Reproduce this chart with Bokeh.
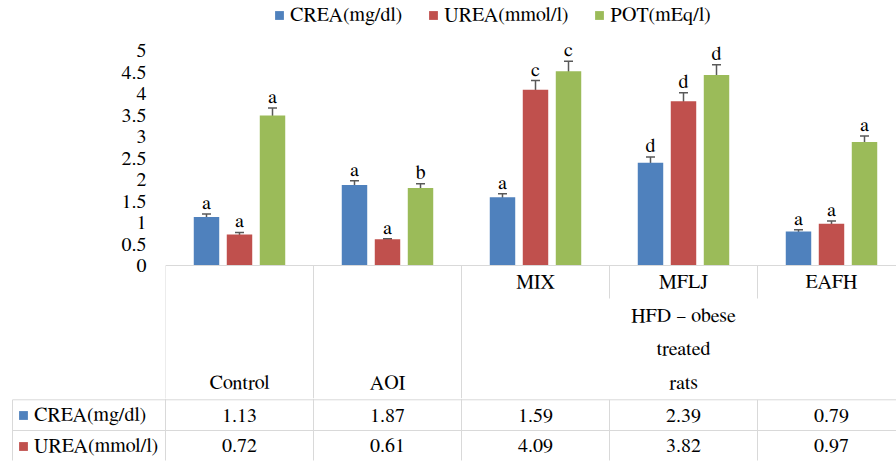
from bokeh.plotting import figure
from bokeh.models import (ColumnDataSource, Range1d, FixedTicker, Whisker, TeeHead,
                          Legend, LegendItem)
from bokeh.layouts import column
from bokeh.transform import dodge
from bokeh.core.properties import value
from bokeh.embed import file_html
from bokeh.resources import INLINE

# ---- data ----
groups = ["Control", "AOI", "MIX", "MFLJ", "EAFH"]
series_names = ["CREA(mg/dl)", "UREA(mmol/l)", "POT(mEq/l)"]
crea = [1.13, 1.87, 1.59, 2.39, 0.79]
urea = [0.72, 0.61, 4.09, 3.82, 0.97]
pot = [3.49, 1.80, 4.52, 4.43, 2.87]
crea_err = [0.07, 0.10, 0.08, 0.135, 0.04]
urea_err = [0.05, 0.01, 0.21, 0.20, 0.065]
pot_err = [0.17, 0.10, 0.23, 0.24, 0.14]
crea_sig = ["a", "a", "a", "d", "a"]
urea_sig = ["a", "a", "c", "d", "a"]
pot_sig = ["a", "b", "c", "d", "a"]
y_ticks = [0, 0.5, 1, 1.5, 2, 2.5, 3, 3.5, 4, 4.5, 5]
y_tick_labels = ["0", "0.5", "1", "1.5", "2", "2.5", "3", "3.5", "4", "4.5", "5"]
treated_header = ["HFD \u2013 obese", "treated", "rats"]
table_rows = ["CREA(mg/dl)", "UREA(mmol/l)"]

# ---- styling / layout ----
W, H = 896, 468
LEFT = 165          # left edge of the first group column
CAT = 148           # width of one group column in px
BASE = 265          # zero line, px from the top
PX_PER_UNIT = 43
TOP_H = 398         # bars + table header; the value rows go below
COLORS = ["#4F81BD", "#C0504D", "#9BBB59"]
ERR_COLOR = "#595959"
GRID_COLOR = "#d9d9d9"
FAMILY = "FreeSerif"
FONT = value(FAMILY)
FS = "20px"
OFFSETS = [-0.223, 0.0, 0.223]
BAR_W = 0.172
NAN = float("nan")

x_end = -0.5 + (W - LEFT) / CAT
n = len(groups)
edges = [i - 0.5 for i in range(n)]
first_treated = 2


def below(px):
    """y value of a point px pixels below the zero line."""
    return -px / PX_PER_UNIT


# ---- bar panel with the table header ----
p = figure(width=W, height=TOP_H, x_range=Range1d(-0.5, x_end),
           y_range=Range1d(below(TOP_H - BASE), BASE / PX_PER_UNIT),
           output_backend="svg", toolbar_location=None, x_axis_location=None,
           min_border_left=LEFT, min_border_right=0, min_border_top=0,
           min_border_bottom=0, outline_line_color=None)
p.frame_align = False
p.xgrid.visible = False
p.ygrid.visible = False
ax = p.yaxis[0]
ax.ticker = FixedTicker(ticks=y_ticks)
ax.major_label_overrides = {t: s for t, s in zip(y_ticks, y_tick_labels)}
ax.axis_line_color = None
ax.major_tick_line_color = None
ax.minor_tick_line_color = None
ax.major_label_standoff = 13
ax.major_label_text_font = FAMILY
ax.major_label_text_font_size = FS
ax.major_label_text_color = "black"

series = [(crea, crea_err, crea_sig), (urea, urea_err, urea_sig), (pot, pot_err, pot_sig)]
legend_keys = []
for (vals, errs, sigs), off, color, name in zip(series, OFFSETS, COLORS, series_names):
    src = ColumnDataSource(dict(
        idx=list(range(n)),
        val=vals,
        hi=[v + e for v, e in zip(vals, errs)],
        lo=[v - e for v, e in zip(vals, errs)],
        sig=sigs,
    ))
    xpos = dodge("idx", off)
    p.vbar(x=xpos, top="val", bottom=0, width=BAR_W, source=src,
           fill_color=color, line_color=None)
    p.add_layout(Whisker(source=src, base=xpos, upper="hi", lower="lo",
                         dimension="height", line_color=ERR_COLOR, line_width=1.5,
                         upper_head=TeeHead(size=9, line_color=ERR_COLOR, line_width=1.5),
                         lower_head=TeeHead(size=9, line_color=ERR_COLOR, line_width=1.5)))
    p.text(x=xpos, y="hi", text="sig", source=src, text_align="center",
           text_baseline="bottom", y_offset=-1, text_font=FONT,
           text_font_size=FS, text_color="black")
    key = p.scatter(x=[NAN], y=[NAN], marker="square", fill_color=color, line_color=None)
    legend_keys.append(LegendItem(label=name, renderers=[key]))

top_legend = Legend(items=legend_keys, orientation="horizontal",
                    location=(103, TOP_H - 26),
                    glyph_width=22, glyph_height=22, label_standoff=0, spacing=20,
                    padding=0, margin=0, border_line_color=None,
                    background_fill_alpha=0, label_text_font=FAMILY,
                    label_text_font_size=FS, label_text_color="black", label_height=22)
p.add_layout(top_legend)

# table header: borders
SUB_H = 33            # height of the sub-group header strip
hx0, hy0, hx1, hy1 = [-0.5], [0], [x_end], [0]
for i, e in enumerate(edges):
    depth = TOP_H - BASE if i <= first_treated else SUB_H
    hx0.append(e); hy0.append(0); hx1.append(e); hy1.append(below(depth))
p.segment(x0=hx0, y0=hy0, x1=hx1, y1=hy1, line_color=GRID_COLOR, line_width=1)

# table header: group names
name_src = ColumnDataSource(dict(
    x=list(range(n)),
    y=[below(117.5) if i < first_treated else below(16.7) for i in range(n)],
    text=groups))
p.text(x="x", y="y", text="text", source=name_src, text_align="center",
       text_baseline="middle", text_font=FONT, text_font_size=FS, text_color="black")

# merged header over the treated groups
mid = (first_treated + n - 1) / 2
hdr_src = ColumnDataSource(dict(x=[mid] * len(treated_header),
                                y=[below(50 + 33.5 * k) for k in range(len(treated_header))],
                                text=treated_header))
p.text(x="x", y="y", text="text", source=hdr_src, text_align="center",
       text_baseline="middle", text_font=FONT, text_font_size=FS, text_color="black")

# ---- value rows of the table ----
RH = H - TOP_H
t = figure(width=W, height=RH, x_range=Range1d(-0.5 - LEFT / CAT, x_end),
           y_range=Range1d(RH, 0), output_backend="svg", toolbar_location=None,
           x_axis_location=None, y_axis_location=None,
           min_border_left=0, min_border_right=0, min_border_top=0,
           min_border_bottom=0, outline_line_color=None)
t.frame_align = False
t.xgrid.visible = False
t.ygrid.visible = False

ROW1, ROW2 = 1.3, 32
TABLE_BOTTOM = 62
head_left = -0.5 - (LEFT - 12) / CAT

x0s, y0s, x1s, y1s = [], [], [], []
for yr in (ROW1, ROW2):
    x0s.append(head_left); y0s.append(yr); x1s.append(x_end); y1s.append(yr)
x0s.append(head_left); y0s.append(ROW1); x1s.append(head_left); y1s.append(TABLE_BOTTOM)
for i, e in enumerate(edges):
    y_start = 0 if i <= first_treated else ROW1
    x0s.append(e); y0s.append(y_start); x1s.append(e); y1s.append(TABLE_BOTTOM)
t.segment(x0=x0s, y0=y0s, x1=x1s, y1=y1s, line_color=GRID_COLOR, line_width=1)

row_vals = [crea, urea]
for r, vals in enumerate(row_vals):
    y_mid = (ROW1, ROW2)[r] + 15.3
    src = ColumnDataSource(dict(x=list(range(n)), y=[y_mid] * n,
                                text=[f"{v:.2f}" for v in vals]))
    t.text(x="x", y="y", text="text", source=src, text_align="center",
           text_baseline="middle", text_font=FONT, text_font_size=FS, text_color="black")

row_keys = []
for name, color in zip(table_rows, COLORS):
    key = t.scatter(x=[NAN], y=[NAN], marker="square", fill_color=color, line_color=None)
    row_keys.append(LegendItem(label=name, renderers=[key]))
row_legend = Legend(items=row_keys, orientation="vertical", location=(12, 11),
                    glyph_width=22, glyph_height=22, label_standoff=0, spacing=9,
                    padding=0, margin=0, border_line_color=None,
                    background_fill_alpha=0, label_text_font=FAMILY,
                    label_text_font_size=FS, label_text_color="black", label_height=22)
t.add_layout(row_legend)

layout = column(p, t, spacing=0)
open("out.html", "w").write(file_html(layout, INLINE))
